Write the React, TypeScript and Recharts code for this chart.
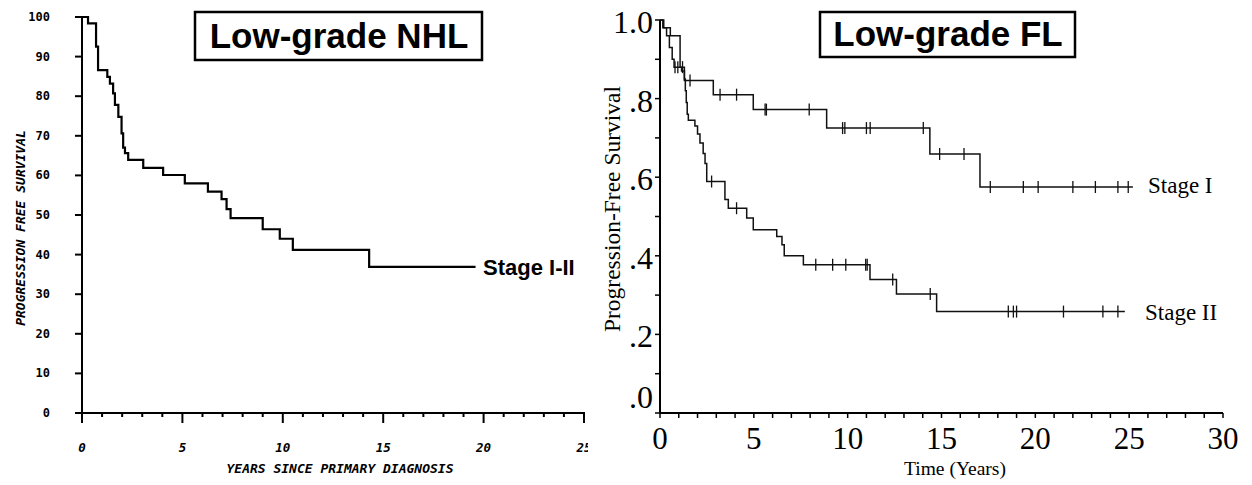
import React from 'react';
import { ComposedChart, Line, Scatter, XAxis, YAxis } from 'recharts';

// Low-grade NHL, stage I-II (percent)
const nhlYears = [0, 0.3, 0.7, 0.8, 1.26, 1.39, 1.55, 1.64, 1.81, 1.97, 2.05, 2.14, 2.3, 3.05, 4.04, 5.12, 6.27, 6.95, 7.2, 7.4, 9.0, 9.85, 10.5, 14.3, 19.6];
const nhlPfs = [100, 98.4, 92.5, 86.6, 84.9, 83.2, 80.7, 77.8, 74.8, 70.6, 67, 65.6, 63.9, 61.9, 60.1, 58, 55.9, 54, 51.5, 49.2, 46.4, 44, 41.2, 36.9, 36.9];
const nhlXTicks = [0, 1, 2, 3, 4, 5, 6, 7, 8, 9, 10, 11, 12, 13, 14, 15, 16, 17, 18, 19, 20, 21, 22, 23, 24, 25];
const nhlXLabels = ['0', '5', '10', '15', '20', '25'];
const nhlYTicks = [0, 10, 20, 30, 40, 50, 60, 70, 80, 90, 100];

// Low-grade FL, stage I
const flStage1Years = [0, 0.2, 0.55, 1.07, 1.3, 2.84, 4.97, 8.88, 14.38, 17.05, 25.2];
const flStage1Pfs = [1.0, 0.98, 0.96, 0.88, 0.846, 0.81, 0.772, 0.725, 0.659, 0.575, 0.575];
const flStage1Censor = [1.2, 1.6, 3.2, 4.08, 5.6, 5.67, 7.95, 9.73, 9.85, 11.0, 11.2, 14.03, 14.9, 16.2, 17.6, 19.36, 20.15, 22.0, 23.2, 24.4, 24.95];

// Low-grade FL, stage II
const flStage2Years = [0, 0.15, 0.35, 0.5, 0.65, 0.75, 1.15, 1.3, 1.35, 1.4, 1.45, 1.51, 1.86, 2.0, 2.13, 2.3, 2.4, 2.49, 3.46, 3.64, 4.62, 4.97, 6.22, 6.5, 6.62, 7.64, 11.19, 12.6, 14.74, 24.77];
const flStage2Pfs = [1.0, 0.98, 0.96, 0.93, 0.9, 0.88, 0.87, 0.85, 0.82, 0.79, 0.76, 0.745, 0.73, 0.71, 0.687, 0.66, 0.635, 0.589, 0.543, 0.521, 0.496, 0.466, 0.449, 0.428, 0.4, 0.377, 0.34, 0.303, 0.258, 0.258];
const flStage2Censor = [0.8, 0.95, 2.75, 4.08, 8.3, 9.2, 9.9, 10.96, 11.04, 12.4, 14.4, 18.56, 18.83, 19.0, 21.5, 23.6, 24.4];

const flXTicks = [0, 1, 2, 3, 4, 5, 6, 7, 8, 9, 10, 11, 12, 13, 14, 15, 16, 17, 18, 19, 20, 21, 22, 23, 24, 25, 26, 27, 28, 29, 30];
const flXLabels = ['0', '5', '10', '15', '20', '25', '30'];
const flYTicks = [0, 0.1, 0.2, 0.3, 0.4, 0.5, 0.6, 0.7, 0.8, 0.9, 1.0];
const flYLabels = ['.0', '', '.2', '', '.4', '', '.6', '', '.8', '', '1.0'];

const toRows = (xs: number[], ys: number[]) => xs.map((t, i) => ({ t, v: ys[i] }));
const stepAt = (xs: number[], ys: number[], t: number) => {
  let v = ys[0];
  for (let i = 0; i < xs.length; i++) if (xs[i] <= t) v = ys[i];
  return v;
};

const nhlRows = toRows(nhlYears, nhlPfs);
const st1Rows = toRows(flStage1Years, flStage1Pfs);
const st2Rows = toRows(flStage2Years, flStage2Pfs);
const st1Cens = flStage1Censor.map((t) => ({ t, v: stepAt(flStage1Years, flStage1Pfs, t) }));
const st2Cens = flStage2Censor.map((t) => ({ t, v: stepAt(flStage2Years, flStage2Pfs, t) }));

const MONO = '"DejaVu Sans Mono", monospace';
const SERIF = '"Liberation Serif", "Times New Roman", serif';
const SANS = '"Liberation Sans", Arial, sans-serif';

function NhlXTick(p: any) {
  const v = p.payload.value;
  const major = v % 5 === 0;
  return (
    <g>
      <line x1={p.x} x2={p.x} y1={p.y - 1} y2={p.y + (major ? 10 : 4)} stroke="#000" strokeWidth={2} />
      {major && (
        <text x={p.x} y={p.y + 34} textAnchor="middle" dominantBaseline="central"
          fontFamily={MONO} fontWeight="bold" fontStyle="italic" fontSize={12.5} fill="#000">
          {nhlXLabels[v / 5]}
        </text>
      )}
    </g>
  );
}

function NhlYTick(p: any) {
  return (
    <g>
      <line x1={p.x - 7} x2={p.x} y1={p.y} y2={p.y} stroke="#000" strokeWidth={2} />
      <text x={p.x - 32} y={p.y} textAnchor="end" dominantBaseline="central"
        fontFamily={MONO} fontWeight="bold" fontSize={12} fill="#000">
        {p.payload.value}
      </text>
    </g>
  );
}

function FlXTick(p: any) {
  const v = p.payload.value;
  return (
    <g>
      <line x1={p.x} x2={p.x} y1={p.y} y2={p.y + 5} stroke="#000" strokeWidth={1.5} />
      {v % 5 === 0 && (
        <text x={p.x} y={p.y + 25} textAnchor="middle" dominantBaseline="central"
          fontFamily={SERIF} fontSize={31} fill="#000">
          {flXLabels[v / 5]}
        </text>
      )}
    </g>
  );
}

function FlYTick(p: any) {
  const label = flYLabels[p.index];
  return (
    <g>
      <line x1={p.x - 5} x2={p.x} y1={p.y} y2={p.y} stroke="#000" strokeWidth={1.5} />
      {label && (
        <text x={p.x - 7} y={p.y + (p.index === 0 ? -16 : 2)} textAnchor="end" dominantBaseline="central"
          fontFamily={SERIF} fontSize={32} fill="#000">
          {label}
        </text>
      )}
    </g>
  );
}

const censorMark = (p: any) => (
  <line x1={p.cx} x2={p.cx} y1={p.cy - 6} y2={p.cy + 6} stroke="#111" strokeWidth={1.3} />
);

export default function App() {
  return (
    <div style={{ position: 'absolute', left: 0, top: 0, width: 1252, height: 485, background: '#fff', overflow: 'hidden' }}>
      <div style={{ position: 'absolute', left: 0, top: 0 }}>
        <ComposedChart width={588} height={485} margin={{ top: 17, right: 4, left: 0, bottom: 0 }}>
          <XAxis type="number" dataKey="t" domain={[0, 25]} ticks={nhlXTicks} interval={0}
            tickSize={0} tickMargin={0} tickLine={false} tick={(p: any) => <NhlXTick {...p} />}
            axisLine={{ stroke: '#000', strokeWidth: 2 }} allowDataOverflow height={72} />
          <YAxis type="number" domain={[0, 100]} ticks={nhlYTicks} interval={0} width={82}
            tickSize={0} tickMargin={0} tickLine={false} tick={(p: any) => <NhlYTick {...p} />}
            axisLine={{ stroke: '#000', strokeWidth: 2 }} />
          <Line data={nhlRows} dataKey="v" type="stepAfter" stroke="#000" strokeWidth={2.2}
            dot={false} isAnimationActive={false} />
        </ComposedChart>
      </div>
      <div style={{ position: 'absolute', left: 590, top: 0 }}>
        <ComposedChart width={662} height={485} margin={{ top: 20, right: 29, left: 0, bottom: 0 }}>
          <XAxis type="number" dataKey="t" domain={[0, 30]} ticks={flXTicks} interval={0}
            tickSize={0} tickMargin={0} tickLine={false} tick={(p: any) => <FlXTick {...p} />}
            axisLine={{ stroke: '#000', strokeWidth: 2 }} allowDataOverflow height={72} />
          <YAxis type="number" domain={[0, 1]} ticks={flYTicks} interval={0} width={70}
            tickSize={0} tickMargin={0} tickLine={false} tick={(p: any) => <FlYTick {...p} />}
            axisLine={{ stroke: '#000', strokeWidth: 2 }} />
          <Line data={st1Rows} dataKey="v" type="stepAfter" stroke="#111" strokeWidth={1.5}
            dot={false} isAnimationActive={false} />
          <Line data={st2Rows} dataKey="v" type="stepAfter" stroke="#111" strokeWidth={1.5}
            dot={false} isAnimationActive={false} />
          <Scatter data={st1Cens} dataKey="v" shape={censorMark} isAnimationActive={false} />
          <Scatter data={st2Cens} dataKey="v" shape={censorMark} isAnimationActive={false} />
        </ComposedChart>
      </div>
      <svg width={1252} height={485} style={{ position: 'absolute', left: 0, top: 0, pointerEvents: 'none' }}>
        <rect x={195} y={12} width={287} height={48} fill="#fff" stroke="#000" strokeWidth={2.5} />
        <text x={339} y={48} textAnchor="middle" fontFamily={SANS} fontWeight="bold" fontSize={35} fill="#000">Low-grade NHL</text>
        <rect x={820} y={12} width={255} height={45} fill="#fff" stroke="#000" strokeWidth={2.5} />
        <text x={948} y={46} textAnchor="middle" fontFamily={SANS} fontWeight="bold" fontSize={35} fill="#000">Low-grade FL</text>
        <text x={483} y={275} fontFamily={SANS} fontWeight="bold" fontSize={22} fill="#000">Stage I-II</text>
        <text transform="translate(20,228) rotate(-90)" textAnchor="middle" dominantBaseline="central"
          fontFamily={MONO} fontWeight="bold" fontStyle="italic" fontSize={13} fill="#000">PROGRESSION FREE SURVIVAL</text>
        <text x={340} y={468} textAnchor="middle" dominantBaseline="central"
          fontFamily={MONO} fontWeight="bold" fontStyle="italic" fontSize={13} fill="#000">YEARS SINCE PRIMARY DIAGNOSIS</text>
        <text transform="translate(612,209) rotate(-90)" textAnchor="middle" dominantBaseline="central"
          fontFamily={SERIF} fontSize={23.5} fill="#000">Progression-Free Survival</text>
        <text x={955} y={468} textAnchor="middle" dominantBaseline="central" fontFamily={SERIF} fontSize={19.5} fill="#000">Time (Years)</text>
        <text x={1148} y={193} fontFamily={SERIF} fontSize={23} fill="#000">Stage I</text>
        <text x={1145} y={320} fontFamily={SERIF} fontSize={23} fill="#000">Stage II</text>
      </svg>
    </div>
  );
}
